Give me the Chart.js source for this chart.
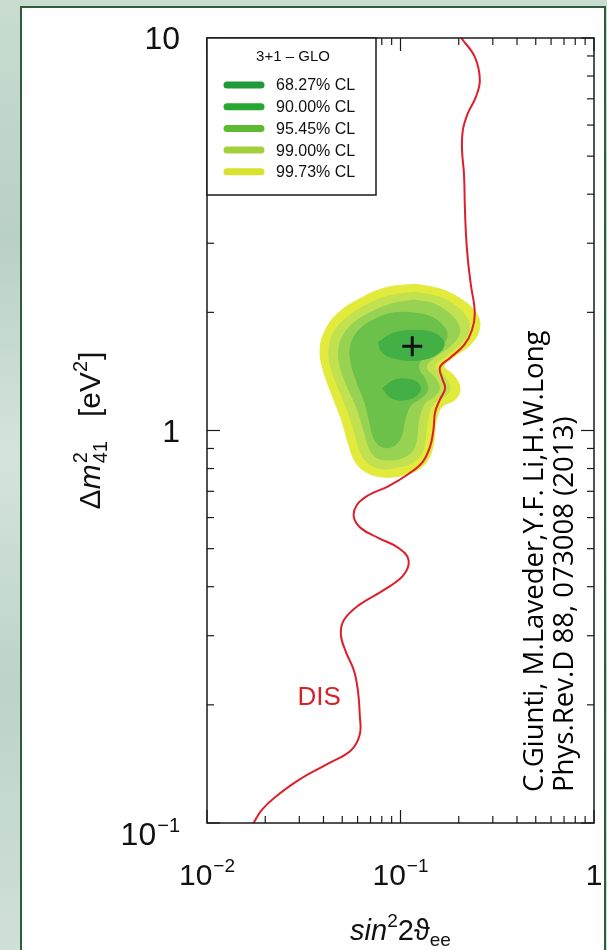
<!DOCTYPE html>
<html lang="en">
<head>
<meta charset="UTF-8">
<title>3+1 GLO – sin²2ϑee vs Δm²41</title>
<script src="https://cdn.jsdelivr.net/npm/chart.js"></script>
<style>
  html, body { margin: 0; padding: 0; width: 607px; height: 950px; overflow: hidden; }
  body {
    background: linear-gradient(180deg, #c9dccf 0%, #b9d0c6 25%, #d5e4db 48%, #bdd3c7 72%, #d0e0d6 100%);
  }
  .panel {
    position: absolute; left: 20px; top: 6px; width: 586px; height: 980px;
    box-sizing: border-box; background: #fff; border: 2px solid #2f5c3b;
  }
  #plot { position: absolute; left: 0; top: 0; }
</style>
</head>
<body>
<div class="panel"></div>
<canvas id="plot" width="607" height="950"></canvas>

<script>
// axes
const xMajorTicks = [0.01, 0.1, 1];
const xMinorTicks = [0.02, 0.03, 0.04, 0.05, 0.06, 0.07, 0.08, 0.09, 0.2, 0.3, 0.4, 0.5, 0.6, 0.7, 0.8, 0.9];
const yMajorTicks = [0.1, 1, 10];
const yMinorTicks = [0.2, 0.3, 0.4, 0.5, 0.6, 0.7, 0.8, 0.9, 2, 3, 4, 5, 6, 7, 8, 9];
const xTickLabels = [['10', '\u22122'], ['10', '\u22121'], ['1', '']];
const yTickLabels = [['10', '\u22121'], ['1', ''], ['10', '']];

// confidence levels (legend order)
const clLabels = ['68.27% CL', '90.00% CL', '95.45% CL', '99.00% CL', '99.73% CL'];
const clKeyColors = ['#1f9a37', '#26a830', '#5cbb33', '#a2d03c', '#d9e22c'];
const clFillColors = ['#42b045', '#6cc14a', '#98d252', '#c2e151', '#e2ea3c'];

// allowed regions (sin^2 2theta, dm^2)
const cl68aX = [0.0771, 0.0921, 0.121, 0.153, 0.168, 0.153, 0.121, 0.0921, 0.0799];
const cl68aY = [1.68, 1.77, 1.80, 1.76, 1.66, 1.56, 1.51, 1.53, 1.59];
const cl68bX = [0.0809, 0.0921, 0.110, 0.125, 0.125, 0.109, 0.0899];
const cl68bY = [1.28, 1.34, 1.35, 1.31, 1.25, 1.20, 1.21];
const cl90X = [0.110, 0.139, 0.164, 0.174, 0.159, 0.133, 0.124, 0.134, 0.138, 0.128, 0.113, 0.105, 0.101, 0.0921, 0.0809, 0.0736, 0.0694, 0.0654, 0.0595, 0.0554, 0.0554, 0.0609, 0.0736, 0.0899];
const cl90Y = [2.00, 1.96, 1.86, 1.74, 1.63, 1.54, 1.45, 1.35, 1.27, 1.21, 1.16, 1.06, 0.968, 0.913, 0.908, 0.946, 1.05, 1.18, 1.33, 1.50, 1.65, 1.80, 1.92, 1.99];
const cl95X = [0.117, 0.149, 0.178, 0.198, 0.201, 0.180, 0.151, 0.136, 0.151, 0.159, 0.149, 0.133, 0.124, 0.121, 0.114, 0.101, 0.0868, 0.0744, 0.0686, 0.0646, 0.0595, 0.0529, 0.0487, 0.0481, 0.0510, 0.0581, 0.0702, 0.0899];
const cl95Y = [2.15, 2.10, 1.99, 1.87, 1.76, 1.64, 1.54, 1.45, 1.36, 1.28, 1.22, 1.17, 1.06, 0.946, 0.882, 0.851, 0.841, 0.856, 0.908, 1.003, 1.14, 1.30, 1.46, 1.62, 1.76, 1.89, 2.00, 2.10];
const cl99X = [0.119, 0.157, 0.192, 0.221, 0.226, 0.206, 0.172, 0.151, 0.170, 0.180, 0.170, 0.148, 0.138, 0.134, 0.128, 0.114, 0.0965, 0.0818, 0.0702, 0.0631, 0.0588, 0.0541, 0.0481, 0.0438, 0.0427, 0.0453, 0.0522, 0.0654, 0.0868];
const cl99Y = [2.25, 2.19, 2.08, 1.93, 1.80, 1.67, 1.55, 1.46, 1.37, 1.28, 1.22, 1.17, 1.06, 0.946, 0.871, 0.826, 0.807, 0.798, 0.817, 0.866, 0.962, 1.10, 1.27, 1.44, 1.61, 1.78, 1.93, 2.08, 2.20];
const cl9973X = [0.119, 0.162, 0.206, 0.245, 0.257, 0.234, 0.189, 0.168, 0.189, 0.203, 0.192, 0.164, 0.153, 0.149, 0.142, 0.127, 0.104, 0.0818, 0.0662, 0.0581, 0.0535, 0.0492, 0.0438, 0.0398, 0.0384, 0.0408, 0.0475, 0.0609, 0.0838];
const cl9973Y = [2.36, 2.29, 2.16, 2.00, 1.84, 1.67, 1.54, 1.46, 1.38, 1.28, 1.20, 1.15, 1.06, 0.946, 0.861, 0.803, 0.770, 0.761, 0.784, 0.836, 0.935, 1.076, 1.246, 1.43, 1.60, 1.80, 1.99, 2.16, 2.31];

// best fit point
const bestFitX = [0.115];
const bestFitY = [1.64];

// DIS bound
const disX = [0.206, 0.242, 0.257, 0.245, 0.223, 0.210, 0.208, 0.213, 0.215, 0.218, 0.223, 0.231, 0.242, 0.234, 0.213, 0.180, 0.160, 0.164, 0.170, 0.160, 0.151, 0.148, 0.142, 0.130, 0.110, 0.0868, 0.0686, 0.0595, 0.0574, 0.0624, 0.0771, 0.0977, 0.110, 0.1036, 0.0818, 0.0609, 0.0510, 0.0492, 0.0522, 0.0574, 0.0602, 0.0616, 0.0616, 0.0554, 0.0427, 0.0300, 0.0223, 0.0192, 0.0174];
const disY = [10, 8.95, 7.82, 7.07, 6.44, 5.83, 5.18, 4.48, 3.75, 3.15, 2.72, 2.35, 2.00, 1.80, 1.65, 1.53, 1.45, 1.36, 1.28, 1.20, 1.115, 1.003, 0.908, 0.831, 0.775, 0.722, 0.685, 0.646, 0.602, 0.564, 0.532, 0.502, 0.468, 0.428, 0.392, 0.359, 0.329, 0.301, 0.273, 0.245, 0.218, 0.188, 0.168, 0.153, 0.142, 0.129, 0.116, 0.108, 0.100];
const disLabelAt = [0.038, 0.2];

const citation = ['C.Giunti, M.Laveder,Y.F. Li,H.W.Long', 'Phys.Rev.D 88, 073008 (2013)'];

const HELV = '"Liberation Sans", Arial, Helvetica, sans-serif';

function points(xs, ys) {
    return xs.map((x, i) => ({ x: x, y: ys[i] }));
}
function closed(xs, ys) {
    const p = points(xs, ys);
    p.push({ x: p[0].x, y: p[0].y });
    return p;
}
function region(xs, ys, level, order) {
    return {
        data: closed(xs, ys),
        showLine: true,
        fill: 'shape',
        backgroundColor: clFillColors[level],
        borderColor: clFillColors[level],
        borderWidth: 1,
        pointRadius: 0,
        tension: 0.4,
        order: order
    };
}

// draws "base^exp" ; align = 'right' | 'center'
function drawPow(ctx, base, exp, x, y, align, size) {
    const small = Math.round(size * 0.64);
    ctx.font = size + 'px ' + HELV;
    const wb = ctx.measureText(base).width;
    ctx.font = small + 'px ' + HELV;
    const we = exp ? ctx.measureText(exp).width + 1 : 0;
    const w = wb + we;
    const x0 = align === 'right' ? x - w : x - w / 2;
    ctx.textAlign = 'left';
    ctx.textBaseline = 'alphabetic';
    ctx.font = size + 'px ' + HELV;
    ctx.fillText(base, x0, y);
    if (exp) {
        ctx.font = small + 'px ' + HELV;
        ctx.fillText(exp, x0 + wb + 1, y - size * 0.42);
    }
}

// text run made of pieces
function drawRuns(ctx, runs, x, y, align) {
    let w = 0;
    runs.forEach(r => { ctx.font = r.font; r.w = ctx.measureText(r.t).width; w += r.w + (r.gap || 0); });
    let cx = align === 'center' ? x - w / 2 : x;
    ctx.textAlign = 'left';
    ctx.textBaseline = 'alphabetic';
    runs.forEach(r => {
        ctx.font = r.font;
        ctx.fillText(r.t, cx, y + (r.dy || 0));
        cx += r.w + (r.gap || 0);
    });
}

const overlay = {
    id: 'overlay',
    afterDatasetsDraw(chart) {
        const ctx = chart.ctx;
        const a = chart.chartArea;
        const xs = chart.scales.x, ys = chart.scales.y;
        ctx.save();

        // frame
        ctx.strokeStyle = '#1a1a1a';
        ctx.lineWidth = 1.5;
        ctx.strokeRect(a.left, a.top, a.right - a.left, a.bottom - a.top);

        // inward ticks on all four sides
        ctx.lineWidth = 1.2;
        const seg = (x1, y1, x2, y2) => { ctx.beginPath(); ctx.moveTo(x1, y1); ctx.lineTo(x2, y2); ctx.stroke(); };
        const xt = (v, len) => { const p = xs.getPixelForValue(v); seg(p, a.bottom, p, a.bottom - len); seg(p, a.top, p, a.top + len); };
        const yt = (v, len) => { const p = ys.getPixelForValue(v); seg(a.left, p, a.left + len, p); seg(a.right, p, a.right - len, p); };
        xMajorTicks.forEach(v => xt(v, 13));
        xMinorTicks.forEach(v => xt(v, 7));
        yMajorTicks.forEach(v => yt(v, 13));
        yMinorTicks.forEach(v => yt(v, 7));

        // tick labels
        ctx.fillStyle = '#111';
        xMajorTicks.forEach((v, i) => {
            drawPow(ctx, xTickLabels[i][0], xTickLabels[i][1], xs.getPixelForValue(v), 885, 'center', 30);
        });
        yMajorTicks.forEach((v, i) => {
            const p = ys.getPixelForValue(v);
            const hasExp = yTickLabels[i][1] !== '';
            drawPow(ctx, yTickLabels[i][0], yTickLabels[i][1], 180, p + (hasExp ? 22 : 11), 'right', 32);
        });

        // x title
        const big = '29px ' + HELV, bigIt = 'italic 29px ' + HELV, sm = '19px ' + HELV;
        drawRuns(ctx, [
            { t: 'sin', font: bigIt },
            { t: '2', font: sm, dy: -13 },
            { t: '2\u03D1', font: big },
            { t: 'ee', font: sm, dy: 6 }
        ], (a.left + a.right) / 2, 940, 'center');

        // y title (rotated)
        ctx.save();
        ctx.translate(87, (a.top + a.bottom) / 2);
        ctx.rotate(-Math.PI / 2);
        const t30 = '30px ' + HELV, t30i = 'italic 30px ' + HELV, t20 = '20px ' + HELV;
        ctx.font = t20;
        const w41 = ctx.measureText('41').width;
        ctx.font = t30; const wD = ctx.measureText('\u0394').width;
        ctx.font = t30i; const wm = ctx.measureText('m').width;
        ctx.font = t30; const wL = ctx.measureText('[eV').width;
        ctx.font = t20; const w2 = ctx.measureText('2').width;
        ctx.font = t30; const wR = ctx.measureText(']').width;
        const gap = 24;
        const total = wD + wm + 1 + w41 + gap + wL + w2 + 1 + wR;
        let cx = -total / 2;
        const bl = 13;
        ctx.textAlign = 'left';
        ctx.font = t30; ctx.fillText('\u0394', cx, bl); cx += wD;
        ctx.font = t30i; ctx.fillText('m', cx, bl); cx += wm + 1;
        ctx.font = t20; ctx.fillText('2', cx, bl - 13); ctx.fillText('41', cx, bl + 7); cx += w41 + gap;
        ctx.font = t30; ctx.fillText('[eV', cx, bl); cx += wL;
        ctx.font = t20; ctx.fillText('2', cx, bl - 13); cx += w2 + 1;
        ctx.font = t30; ctx.fillText(']', cx, bl);
        ctx.restore();

        // legend box
        const lx = a.left, ly = a.top, lw = 169, lh = 157;
        ctx.fillStyle = '#fff';
        ctx.fillRect(lx, ly, lw, lh);
        ctx.strokeStyle = '#1a1a1a';
        ctx.lineWidth = 1.5;
        ctx.strokeRect(lx, ly, lw, lh);
        ctx.fillStyle = '#111';
        ctx.font = '15px ' + HELV;
        ctx.textAlign = 'center';
        ctx.textBaseline = 'middle';
        ctx.fillText('3+1 \u2013 GLO', lx + 86, ly + 19);
        ctx.lineCap = 'round';
        ctx.lineWidth = 7;
        clLabels.forEach((lab, i) => {
            const yy = ly + 47 + i * 21.7;
            ctx.strokeStyle = clKeyColors[i];
            seg(lx + 20, yy, lx + 54, yy);
            ctx.fillStyle = '#111';
            ctx.textAlign = 'left';
            ctx.font = '16px ' + HELV;
            ctx.fillText(lab, lx + 69, yy + 1);
        });

        // DIS label
        ctx.fillStyle = '#d8202a';
        ctx.font = '26px ' + HELV;
        ctx.textAlign = 'center';
        ctx.textBaseline = 'alphabetic';
        ctx.fillText('DIS', xs.getPixelForValue(disLabelAt[0]), ys.getPixelForValue(disLabelAt[1]));

        // citation (rotated)
        ctx.save();
        ctx.translate(543, 792);
        ctx.rotate(-Math.PI / 2);
        ctx.fillStyle = '#000';
        ctx.textAlign = 'left';
        ctx.font = '26px "Open Sans", sans-serif';
        const fit = 26 * 462 / ctx.measureText(citation[0]).width;
        ctx.font = fit.toFixed(1) + 'px "Open Sans", sans-serif';
        ctx.fillText(citation[0], 0, 0);
        ctx.fillText(citation[1], 0, 30);
        ctx.restore();

        ctx.restore();
    }
};

new Chart(document.getElementById('plot'), {
    type: 'scatter',
    data: {
        datasets: [
            {
                data: points(bestFitX, bestFitY),
                pointStyle: 'cross',
                pointRadius: 10,
                borderColor: '#111',
                borderWidth: 3,
                order: 0
            },
            {
                data: points(disX, disY),
                showLine: true,
                borderColor: '#dc1f2c',
                borderWidth: 2,
                pointRadius: 0,
                tension: 0.4,
                fill: false,
                order: 1
            },
            region(cl68aX, cl68aY, 0, 2),
            region(cl68bX, cl68bY, 0, 3),
            region(cl90X, cl90Y, 1, 4),
            region(cl95X, cl95Y, 2, 5),
            region(cl99X, cl99Y, 3, 6),
            region(cl9973X, cl9973Y, 4, 7)
        ]
    },
    options: {
        responsive: false,
        devicePixelRatio: 1,
        animation: false,
        events: [],
        layout: { padding: { left: 207, top: 38, right: 9, bottom: 127 } },
        scales: {
            x: { type: 'logarithmic', min: 0.01, max: 1, display: false },
            y: { type: 'logarithmic', min: 0.1, max: 10, display: false }
        },
        plugins: {
            legend: { display: false },
            tooltip: { enabled: false }
        }
    },
    plugins: [overlay]
});
</script>
</body>
</html>
